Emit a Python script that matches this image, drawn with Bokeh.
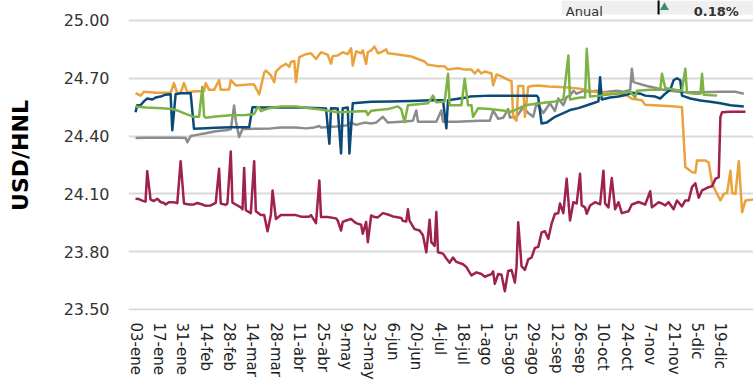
from bokeh.plotting import figure
from bokeh.models import FixedTicker, Range1d, BoxAnnotation, Label, PrintfTickFormatter
from bokeh.embed import file_html
from bokeh.resources import INLINE

# x = day offset from 03-ene
tick_days = list(range(0, 351, 14))
tick_labels = ["03-ene", "17-ene", "31-ene", "14-feb", "28-feb", "14-mar", "28-mar",
               "11-abr", "25-abr", "9-may", "23-may", "6-jun", "20-jun", "4-jul",
               "18-jul", "1-ago", "15-ago", "29-ago", "12-sep", "26-sep", "10-oct",
               "24-oct", "7-nov", "21-nov", "5-dic", "19-dic"]
y_ticks = [23.50, 23.80, 24.10, 24.40, 24.70, 25.00]

orange_d = [0, 3, 5, 12, 21, 23, 25, 27, 29, 31, 36, 41, 42, 44, 47, 50, 51, 56, 57, 60,
            68, 71, 74, 77, 78, 81, 83, 84, 87, 90, 92, 93, 95, 96, 98, 102, 105, 108, 111, 114,
            115, 117, 118, 121, 124, 127, 129, 130, 132, 135, 136, 138, 139, 141, 143, 145, 147, 150, 151, 156,
            161, 165, 169, 173, 175, 178, 181, 185, 187, 189, 193, 197, 201, 203, 205, 207, 209, 213, 214, 216,
            219, 223, 225, 226, 228, 229, 232, 233, 235, 237, 241, 247, 257, 267, 273, 277, 287, 293, 297, 303,
            305, 313, 323, 327, 329, 333, 335, 336, 341, 343, 345, 347, 350, 352, 354, 356, 357, 359, 361, 363,
            365, 370]
orange_v = [24.623, 24.61, 24.63, 24.625, 24.625, 24.675, 24.622, 24.625, 24.675, 24.628,
            24.633, 24.633, 24.675, 24.64, 24.64, 24.69, 24.64, 24.642, 24.69, 24.663,
            24.668, 24.668, 24.616, 24.73, 24.74, 24.715, 24.68, 24.735, 24.76, 24.775,
            24.76, 24.785, 24.79, 24.68, 24.81, 24.825, 24.83, 24.8, 24.835, 24.825,
            24.822, 24.776, 24.815, 24.818, 24.835, 24.825, 24.855, 24.766, 24.84, 24.83,
            24.845, 24.775, 24.835, 24.845, 24.865, 24.83, 24.835, 24.85, 24.83, 24.825,
            24.818, 24.813, 24.8, 24.787, 24.77, 24.767, 24.762, 24.762, 24.745, 24.748,
            24.752, 24.745, 24.745, 24.725, 24.745, 24.725, 24.735, 24.725, 24.663, 24.72,
            24.71, 24.692, 24.685, 24.498, 24.48, 24.66, 24.66, 24.5, 24.655, 24.66,
            24.662, 24.657, 24.654, 24.645, 24.633, 24.628, 24.62, 24.617, 24.594, 24.586,
            24.562, 24.559, 24.553, 24.55, 24.24, 24.213, 24.21, 24.273, 24.273, 24.262,
            24.154, 24.118, 24.066, 24.1, 24.105, 24.22, 24.105, 24.1, 24.27, 24.005,
            24.066, 24.072]

blue_d = [0, 1, 3, 5, 7, 10, 12, 15, 18, 21, 22, 24, 27, 33, 35, 39, 48, 57, 68, 70,
          75, 87, 99, 111, 114, 116, 117, 121, 123, 124, 127, 128, 130, 141, 153, 165, 177, 184, 186, 187,
          198, 200, 212, 221, 236, 240, 241, 243, 246, 251, 260, 265, 272, 277, 278, 279, 284, 289, 294, 297,
          302, 305, 311, 314, 317, 320, 322, 324, 326, 327, 332, 338, 344, 350, 356, 364]
blue_v = [24.524, 24.56, 24.56, 24.58, 24.595, 24.59, 24.6, 24.605, 24.615, 24.617,
          24.43, 24.617, 24.622, 24.622, 24.438, 24.44, 24.443, 24.446, 24.446, 24.55,
          24.548, 24.548, 24.548, 24.545, 24.543, 24.36, 24.545, 24.543, 24.31, 24.545,
          24.548, 24.31, 24.57, 24.578, 24.58, 24.582, 24.586, 24.586, 24.44, 24.586,
          24.6, 24.605, 24.61, 24.61, 24.61, 24.61, 24.6, 24.465, 24.47, 24.5,
          24.535, 24.545, 24.565, 24.58, 24.706, 24.59, 24.6, 24.605, 24.615, 24.625,
          24.62, 24.61, 24.605, 24.595, 24.62, 24.64, 24.69, 24.70, 24.69, 24.61,
          24.595, 24.585, 24.578, 24.57, 24.56, 24.553]

green_d = [0, 6, 16, 22, 26, 30, 35, 38, 40, 41, 42, 48, 57, 66, 71, 73, 74, 75, 80, 87,
           96, 104, 111, 116, 121, 132, 138, 139, 141, 151, 157, 159, 161, 163, 169, 175, 178, 180, 185, 187,
           188, 195, 197, 199, 201, 202, 205, 212, 221, 224, 227, 233, 242, 251, 256, 259, 260, 266, 269, 270,
           272, 278, 287, 296, 299, 300, 308, 314, 315, 317, 323, 327, 329, 330, 335, 338, 339, 340, 348]
green_v = [24.554, 24.548, 24.545, 24.54, 24.53, 24.515, 24.5, 24.5, 24.655, 24.505,
           24.495, 24.502, 24.508, 24.51, 24.515, 24.548, 24.55, 24.53, 24.545, 24.554,
           24.553, 24.545, 24.538, 24.53, 24.524, 24.528, 24.53, 24.51, 24.532, 24.54,
           24.554, 24.54, 24.472, 24.56, 24.565, 24.57, 24.61, 24.575, 24.58, 24.723,
           24.56, 24.56, 24.697, 24.56, 24.56, 24.5, 24.545, 24.54, 24.532, 24.525,
           24.535, 24.56, 24.57, 24.58, 24.59, 24.818, 24.59, 24.6, 24.6, 24.853,
           24.605, 24.61, 24.62, 24.63, 24.6, 24.635, 24.64, 24.64, 24.723, 24.65,
           24.64, 24.635, 24.75, 24.625, 24.62, 24.62, 24.723, 24.615, 24.61]

gray_d = [0, 6, 15, 26, 30, 31, 33, 36, 42, 48, 54, 57, 59, 60, 62, 64, 72, 81, 87, 96,
          102, 107, 110, 111, 120, 126, 129, 132, 137, 141, 144, 148, 151, 159, 166, 168, 169, 180, 183, 184,
          192, 206, 212, 214, 217, 220, 223, 224, 228, 232, 235, 238, 240, 244, 248, 251, 253, 256, 258, 260,
          262, 264, 268, 272, 276, 280, 288, 292, 296, 297, 298, 300, 306, 312, 316, 320, 328, 338, 350, 359,
          364]
gray_v = [24.39, 24.392, 24.392, 24.392, 24.39, 24.368, 24.4, 24.405, 24.415, 24.425,
          24.43, 24.435, 24.559, 24.48, 24.395, 24.437, 24.438, 24.44, 24.445, 24.445,
          24.44, 24.445, 24.452, 24.445, 24.45, 24.455, 24.47, 24.458, 24.47, 24.465,
          24.47, 24.5, 24.47, 24.475, 24.48, 24.533, 24.475, 24.475, 24.533, 24.475,
          24.475, 24.48, 24.48, 24.533, 24.49, 24.495, 24.54, 24.497, 24.5, 24.55,
          24.52, 24.5, 24.57, 24.52, 24.57, 24.53, 24.595, 24.56, 24.603, 24.61,
          24.635, 24.62, 24.635, 24.63, 24.635, 24.628, 24.635, 24.63, 24.64, 24.75,
          24.68, 24.675, 24.66, 24.648, 24.64, 24.635, 24.628, 24.628, 24.63, 24.63,
          24.62]

crimson_d = [0, 2, 4, 6, 7, 9, 11, 13, 15, 17, 18, 20, 23, 25, 27, 29, 32, 35, 37, 40,
             42, 45, 48, 50, 51, 54, 55, 57, 58, 60, 63, 64, 65, 66, 69, 71, 72, 75, 77, 79,
             81, 82, 84, 87, 96, 99, 104, 105, 108, 110, 111, 115, 120, 121, 123, 124, 126, 129, 131, 132,
             135, 136, 138, 139, 141, 143, 145, 148, 151, 154, 156, 159, 160, 162, 163, 164, 167, 170, 172, 174,
             176, 177, 179, 180, 181, 184, 186, 188, 190, 192, 196, 198, 201, 204, 207, 209, 213, 214, 215, 217,
             219, 221, 223, 225, 227, 228, 229, 231, 233, 235, 237, 239, 241, 243, 245, 247, 249, 251, 253, 254,
             256, 258, 260, 262, 264, 266, 267, 269, 270, 272, 275, 278, 280, 281, 283, 285, 287, 289, 291, 295,
             297, 301, 305, 308, 309, 313, 315, 317, 319, 322, 324, 327, 329, 331, 333, 335, 337, 339, 343, 345,
             347, 349, 350, 351, 356, 365]
crimson_v = [24.075, 24.073, 24.065, 24.06, 24.218, 24.07, 24.063, 24.075, 24.058, 24.053,
             24.045, 24.057, 24.057, 24.052, 24.27, 24.05, 24.045, 24.045, 24.053, 24.045,
             24.038, 24.04, 24.053, 24.23, 24.05, 24.043, 24.05, 24.32, 24.055, 24.045,
             24.03, 24.02, 24.235, 24.015, 24.0, 24.27, 24.01, 23.99, 23.99, 23.906,
             23.99, 24.118, 23.97, 23.99, 23.99, 23.982, 23.982, 23.99, 23.948, 24.17,
             23.98, 23.98, 23.973, 23.962, 23.91, 23.955, 23.962, 23.97, 23.955, 23.948,
             23.94, 23.893, 23.955, 23.849, 23.988, 23.98, 23.978, 24.0, 23.993, 23.983,
             23.98, 23.975, 23.96, 23.957, 24.02, 23.96, 23.917, 23.91, 23.885, 23.797,
             23.966, 23.85, 23.83, 24.006, 23.797, 23.79, 23.765, 23.743, 23.77, 23.747,
             23.735, 23.72, 23.677, 23.693, 23.684, 23.67, 23.684, 23.698, 23.633, 23.684,
             23.68, 23.595, 23.7, 23.705, 23.64, 23.72, 23.953, 23.725, 23.706, 23.76,
             23.77, 23.82, 23.825, 23.9, 23.906, 23.867, 23.946, 23.997, 24.0, 24.05,
             24.0, 24.178, 23.962, 24.057, 24.05, 24.204, 24.04, 24.03, 23.997, 24.04,
             24.057, 24.045, 24.22, 24.05, 24.03, 24.182, 24.02, 24.057, 24.0, 24.01,
             24.045, 24.058, 24.045, 24.114, 24.03, 24.057, 24.05, 24.04, 24.057, 24.02,
             24.066, 24.035, 24.066, 24.066, 24.135, 24.155, 24.08, 24.118, 24.135, 24.14,
             24.178, 24.187, 24.5, 24.524, 24.526, 24.526]

# summary box texts (top-right)
summary_label = "Anual"
summary_value = "0.18%"

p = figure(width=753, height=385, output_backend="svg", toolbar_location=None,
           x_range=Range1d(-4.2, 369.8), y_range=Range1d(23.4948, 25.1037),
           min_border_left=128, min_border_right=0, min_border_top=0, min_border_bottom=75)
p.outline_line_color = None
p.background_fill_color = "white"
p.border_fill_color = "white"

# summary box at the top-right
p.add_layout(BoxAnnotation(left=255, bottom=25.031, fill_color="#efefef", fill_alpha=1.0,
                           line_color=None, level="underlay"))
p.segment(x0=[313], y0=[25.031], x1=[313], y1=[25.11], line_color="black", line_width=2)
p.scatter(x=[316.5], y=[25.068], marker="triangle", size=9, fill_color="#3a8f6a",
          line_color=None)
p.add_layout(Label(x=257.5, y=25.0466, text=summary_label, text_font="DejaVu Sans",
                   text_font_size="13px", text_color="#333333", text_baseline="alphabetic"))
p.add_layout(Label(x=334, y=25.0466, text=summary_value, text_font="DejaVu Sans",
                   text_font_style="bold", text_font_size="13px", text_color="#333333",
                   text_baseline="alphabetic"))

p.xgrid.visible = False
p.ygrid.grid_line_color = "#d9d9d9"
p.ygrid.grid_line_width = 2

p.yaxis.ticker = FixedTicker(ticks=y_ticks)
p.yaxis.formatter = PrintfTickFormatter(format="%.2f")
p.yaxis.axis_line_color = None
p.yaxis.major_tick_line_color = None
p.yaxis.minor_tick_line_color = None
p.yaxis.major_tick_out = 0
p.yaxis.major_label_standoff = 19
p.yaxis.major_label_text_font = "DejaVu Sans"
p.yaxis.major_label_text_font_size = "16px"
p.yaxis.major_label_text_color = "#333333"
p.yaxis.axis_label = "USD/HNL"
p.yaxis.axis_label_text_font = "DejaVu Sans"
p.yaxis.axis_label_text_font_style = "bold"
p.yaxis.axis_label_text_font_size = "22px"
p.yaxis.axis_label_text_color = "black"
p.yaxis.axis_label_standoff = 28

p.xaxis.ticker = FixedTicker(ticks=tick_days)
p.xaxis.major_label_overrides = {d: lab for d, lab in zip(tick_days, tick_labels)}
p.xaxis.major_label_orientation = "vertical"
p.xaxis.axis_line_color = None
p.xaxis.major_tick_line_color = None
p.xaxis.minor_tick_line_color = None
p.xaxis.major_tick_out = 0
p.xaxis.major_label_standoff = 12
p.xaxis.major_label_text_font = "DejaVu Sans"
p.xaxis.major_label_text_font_size = "15px"
p.xaxis.major_label_text_color = "#222222"

lw = 2.5
p.line(gray_d, gray_v, line_color="#8c8c8c", line_width=lw, line_join="round")
p.line(orange_d, orange_v, line_color="#eaa23c", line_width=lw, line_join="round")
p.line(blue_d, blue_v, line_color="#0b4a78", line_width=lw, line_join="round")
p.line(green_d, green_v, line_color="#7cb342", line_width=lw, line_join="round")
p.line(crimson_d, crimson_v, line_color="#9e2150", line_width=lw, line_join="round")

open("out.html", "w").write(file_html(p, INLINE))
